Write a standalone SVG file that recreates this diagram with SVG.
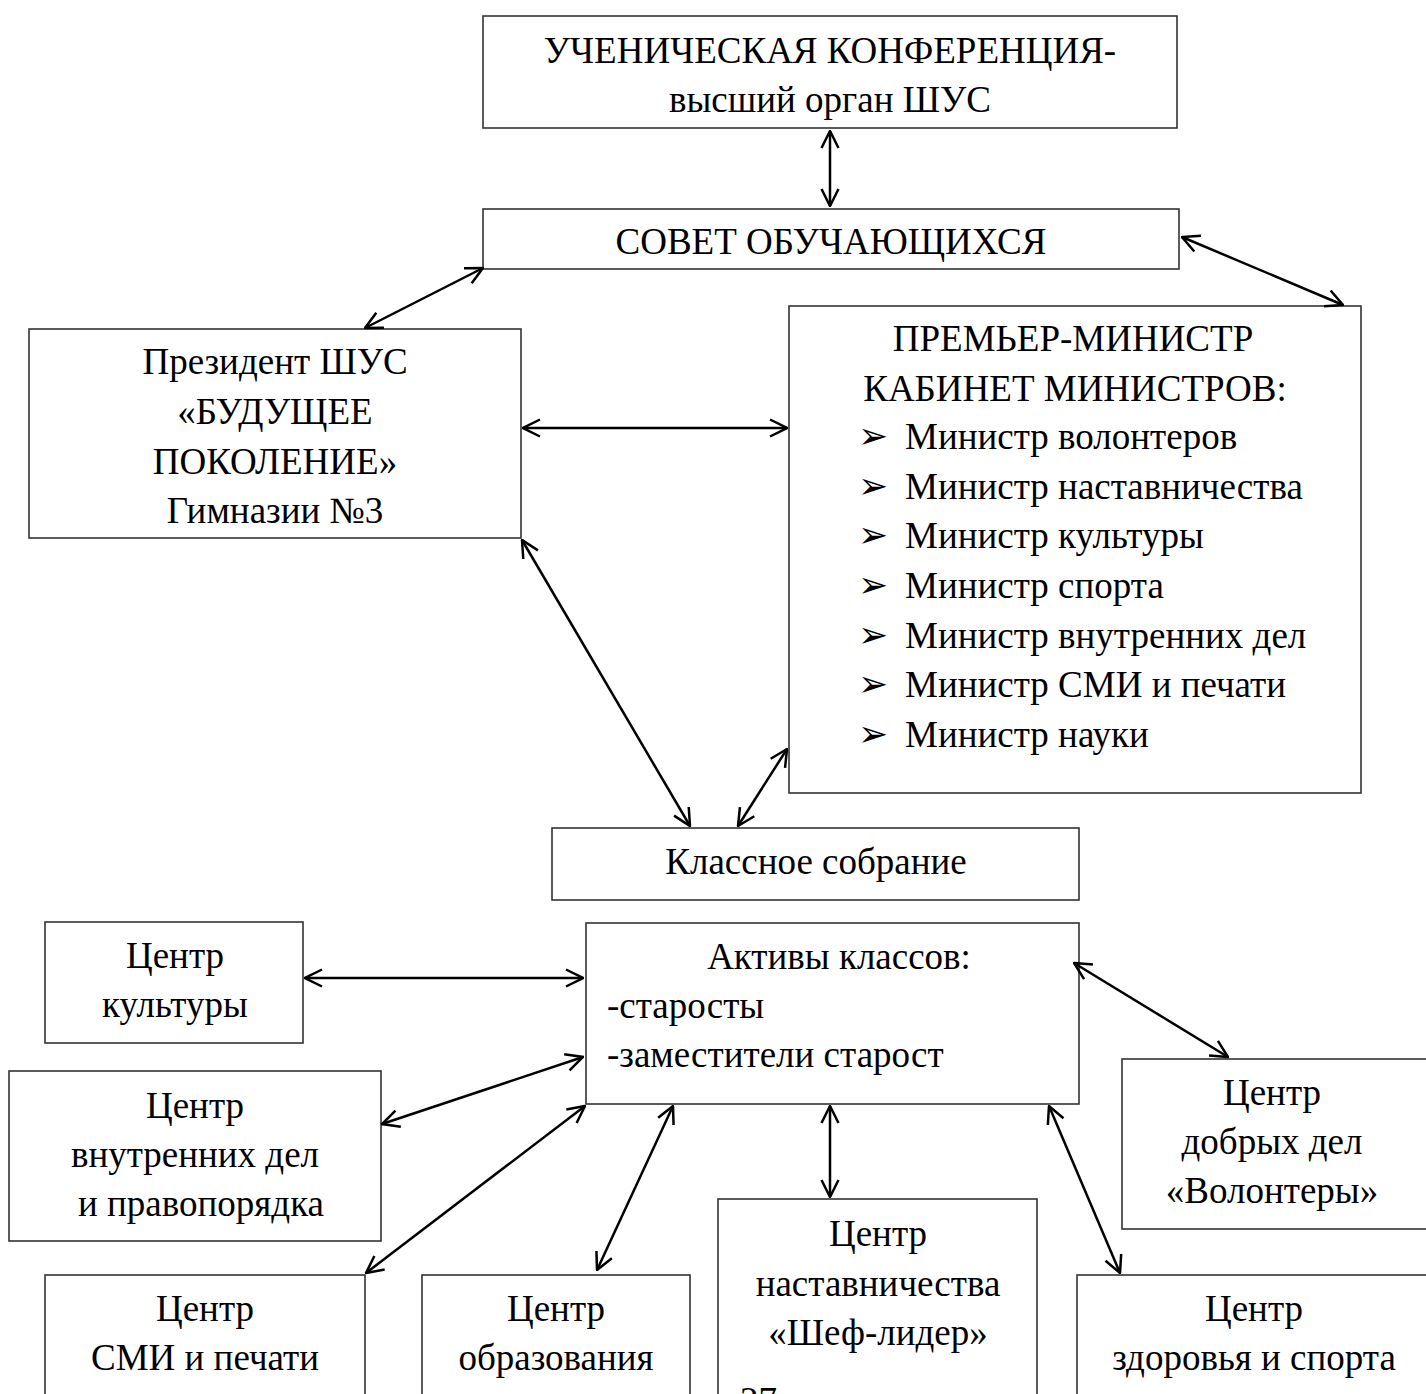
<svg xmlns="http://www.w3.org/2000/svg" width="1426" height="1394" viewBox="0 0 1426 1394">
<style>
.box{fill:#fff;stroke:#333;stroke-width:1.6}
.t{font-family:"Liberation Serif","Times New Roman",serif;font-size:37px;fill:#000}
.c{text-anchor:middle}
.b{font-family:"DejaVu Sans",sans-serif;font-size:36px;fill:#000}
.ln{stroke:#000;stroke-width:2.5;fill:none;marker-start:url(#ah);marker-end:url(#ah)}
</style>
<defs>
<marker id="ah" viewBox="0 0 20 20" refX="19" refY="10" markerWidth="20" markerHeight="20" markerUnits="userSpaceOnUse" orient="auto-start-reverse">
<path d="M2,1.5 L19,10 L2,18.5" fill="none" stroke="#000" stroke-width="2.5"/>
</marker>
</defs>
<rect width="1426" height="1394" fill="#fff"/>
<g id="conf"><rect class="box" x="483" y="16" width="694" height="112"/>
<text class="t c" x="830" y="63">УЧЕНИЧЕСКАЯ КОНФЕРЕНЦИЯ-</text>
<text class="t c" x="830" y="112">высший орган ШУС</text></g>
<g id="sovet"><rect class="box" x="483" y="209" width="696" height="60"/>
<text class="t c" x="831" y="254">СОВЕТ ОБУЧАЮЩИХСЯ</text></g>
<g id="president"><rect class="box" x="29" y="329" width="492" height="209"/>
<text class="t c" x="275" y="374">Президент ШУС</text>
<text class="t c" x="275" y="424">«БУДУЩЕЕ</text>
<text class="t c" x="275" y="474">ПОКОЛЕНИЕ»</text>
<text class="t c" x="275" y="523">Гимназии №3</text></g>
<g id="premier"><rect class="box" x="789" y="306" width="572" height="487"/>
<text class="t c" x="1073" y="351">ПРЕМЬЕР-МИНИСТР</text>
<text class="t c" x="1075" y="401">КАБИНЕТ МИНИСТРОВ:</text>
<text class="b" x="858" y="448">➢</text><text class="t" x="905" y="449">Министр волонтеров</text>
<text class="b" x="858" y="498">➢</text><text class="t" x="905" y="499">Министр наставничества</text>
<text class="b" x="858" y="547">➢</text><text class="t" x="905" y="548">Министр культуры</text>
<text class="b" x="858" y="597">➢</text><text class="t" x="905" y="598">Министр спорта</text>
<text class="b" x="858" y="647">➢</text><text class="t" x="905" y="648">Министр внутренних дел</text>
<text class="b" x="858" y="696">➢</text><text class="t" x="905" y="697">Министр СМИ и печати</text>
<text class="b" x="858" y="746">➢</text><text class="t" x="905" y="747">Министр науки</text></g>
<g id="klass"><rect class="box" x="552" y="828" width="527" height="72"/>
<text class="t c" x="816" y="874">Классное собрание</text></g>
<g id="aktiv"><rect class="box" x="586" y="923" width="493" height="181"/>
<text class="t c" x="839" y="969">Активы классов:</text>
<text class="t" x="607" y="1018">-старосты</text>
<text class="t" x="607" y="1067">-заместители старост</text></g>
<g id="kultura"><rect class="box" x="45" y="922" width="258" height="121"/>
<text class="t c" x="175" y="968">Центр</text>
<text class="t c" x="175" y="1017">культуры</text></g>
<g id="vnutr"><rect class="box" x="9" y="1071" width="372" height="170"/>
<text class="t c" x="195" y="1118">Центр</text>
<text class="t c" x="195" y="1167">внутренних дел</text>
<text class="t c" x="201" y="1216">и правопорядка</text></g>
<g id="dobro"><rect class="box" x="1122" y="1059" width="320" height="170"/>
<text class="t c" x="1272" y="1105">Центр</text>
<text class="t c" x="1272" y="1154">добрых дел</text>
<text class="t c" x="1272" y="1203">«Волонтеры»</text></g>
<g id="smi"><rect class="box" x="45" y="1275" width="320" height="140"/>
<text class="t c" x="205" y="1321">Центр</text>
<text class="t c" x="205" y="1370">СМИ и печати</text></g>
<g id="obraz"><rect class="box" x="422" y="1275" width="268" height="140"/>
<text class="t c" x="556" y="1321">Центр</text>
<text class="t c" x="556" y="1370">образования</text></g>
<g id="nastav"><rect class="box" x="718" y="1199" width="319" height="220"/>
<text class="t c" x="878" y="1246">Центр</text>
<text class="t c" x="878" y="1296">наставничества</text>
<text class="t c" x="878" y="1345">«Шеф-лидер»</text>
<text class="t" x="740" y="1413">27</text></g>
<g id="zdorov"><rect class="box" x="1077" y="1275" width="365" height="140"/>
<text class="t c" x="1254" y="1321">Центр</text>
<text class="t c" x="1254" y="1370">здоровья и спорта</text></g>
<g id="connectors">
<line class="ln" x1="830" y1="131" x2="830" y2="206"/>
<line class="ln" x1="483" y1="268" x2="365" y2="328"/>
<line class="ln" x1="1182" y1="237" x2="1343" y2="305"/>
<line class="ln" x1="523" y1="428" x2="787" y2="428"/>
<line class="ln" x1="522" y1="540" x2="690" y2="826"/>
<line class="ln" x1="787" y1="749" x2="738" y2="826"/>
<line class="ln" x1="305" y1="978" x2="583" y2="978"/>
<line class="ln" x1="583" y1="1057" x2="382" y2="1124"/>
<line class="ln" x1="585" y1="1106" x2="366" y2="1273"/>
<line class="ln" x1="673" y1="1106" x2="597" y2="1270"/>
<line class="ln" x1="830" y1="1106" x2="830" y2="1197"/>
<line class="ln" x1="1074" y1="963" x2="1228" y2="1057"/>
<line class="ln" x1="1049" y1="1106" x2="1120" y2="1273"/>
</g>
</svg>
